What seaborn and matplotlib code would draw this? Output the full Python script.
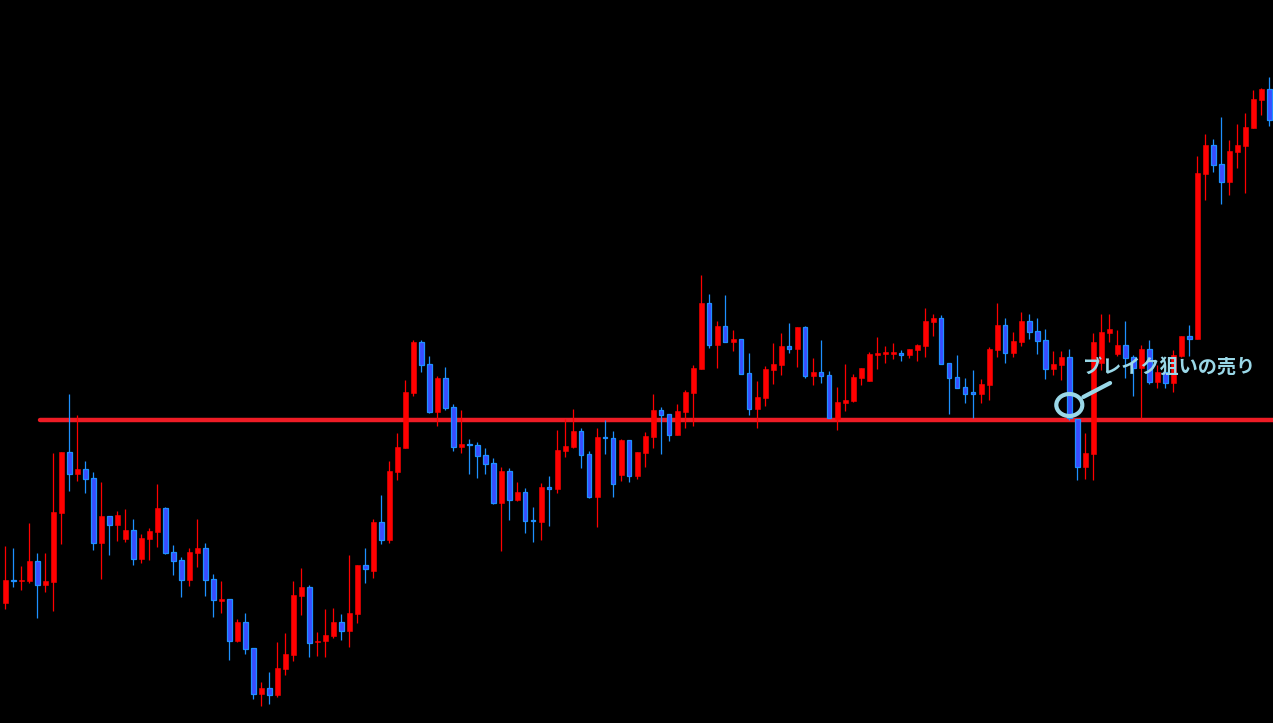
import numpy as np
import pandas as pd
import matplotlib
matplotlib.use("Agg")
import matplotlib.pyplot as plt
import seaborn as sns
from matplotlib.patches import Ellipse

# ---- data (chart levels, larger value = lower price) ----
open_lv = [603, 580, 581, 581, 561, 585, 582, 513, 452, 474, 469, 478, 543, 516, 525, 539, 530, 559, 539, 532,
           508, 552, 560, 580, 553, 548, 579, 600.5, 599, 641, 622, 648, 694, 688, 695, 669, 655, 596, 587, 642,
           641, 636, 622, 631, 614, 565, 571, 522, 540, 472, 448, 393, 342, 364, 412, 378, 407, 447, 444, 445,
           455, 463, 503, 471, 500, 492, 520, 522, 487.5, 489, 451, 447, 431, 454, 497, 437, 438, 475, 440, 476,
           453, 437, 410, 414, 435, 412, 393, 369, 303, 345, 326, 342, 339, 373, 409, 398, 370, 365, 346, 349,
           327, 376, 372, 375, 419, 403, 401, 378, 381, 355, 353.5, 353.5, 353, 355, 350, 346, 322, 318, 363, 377,
           387, 393, 394, 385, 350, 325, 353, 342, 321, 331, 340, 369, 365, 357, 419, 467, 454, 363, 333, 354,
           345, 357, 368, 349, 382, 372, 383, 356, 336, 339, 174, 145, 164, 182, 152, 146, 128, 100, 89]
high_lv = [546, 548, 566, 523, 553, 553, 453, 452, 394, 415, 461, 472, 482, 516, 511, 509, 519, 534, 528, 484,
           507, 545, 557, 548, 519, 543, 574, 581, 599, 619, 613, 648, 682, 672, 642, 633, 581, 568, 585, 632,
           609, 608, 614, 555, 565, 548, 519, 495, 461, 433, 380, 340, 340, 356, 376, 367, 404, 410, 439, 442,
           448, 458, 467, 468, 482, 488, 507, 483, 476, 430, 419, 409, 428, 451, 428, 420, 431, 439, 440, 452,
           432, 394, 407, 414, 404, 390, 365, 275, 294, 321, 295, 330, 339, 353, 381, 366, 343, 333, 323, 327,
           326, 358, 340, 371, 387, 364, 374, 368, 352, 337, 346, 343, 350, 349, 344, 308, 314, 315, 363, 355,
           378, 370, 379, 347, 303, 318, 332, 312, 314, 318, 329, 351, 351, 349, 420, 433, 333, 314, 314, 330,
           321, 355, 345, 340, 365, 368, 350, 336, 325, 156, 134, 139, 117, 140, 124, 113, 90, 88, 77]
low_lv = [609, 587, 590, 583, 618, 592, 611, 544, 491, 481, 493, 550, 579, 555, 541, 542, 565, 563, 560, 547,
          554, 575, 597, 586, 567, 596, 617, 613, 660, 642, 654, 699, 706, 704, 697, 675, 661, 615, 657, 656,
          657, 638, 640, 647, 623, 583, 578, 544, 543, 480, 448, 396, 372, 413, 426, 410, 451, 453, 474, 478,
          474, 504, 551, 520, 501, 533, 542, 540, 526, 493, 457, 448, 468, 498, 527, 454, 497, 481, 482, 479,
          467, 448, 454, 441, 435, 428, 426, 369, 348, 368, 342, 351, 374, 415, 428, 406, 384, 375, 353, 367,
          378, 385, 383, 418, 430, 411, 402, 385, 381, 369, 363, 359, 361, 358, 361, 357, 336, 364, 414, 388,
          403, 418, 403, 400, 357, 363, 357, 346, 339, 354, 379, 375, 380, 420, 480, 479, 480, 370, 342, 356,
          378, 396, 418, 384, 388, 388, 392, 357, 356, 339, 200, 172, 204, 195, 168, 193, 128, 115, 126]
close_lv = [580, 581, 580, 561, 585, 581, 512, 452, 474, 469, 479, 543, 516, 525, 515, 530, 559, 538, 531, 508,
            553, 561, 580, 552, 548, 580, 600, 599.5, 641, 622, 649, 694, 688, 695, 668, 654, 595, 587, 643, 641,
            635, 622, 631, 613, 565, 569, 522, 540, 471, 447, 392, 342, 365, 412, 378, 408, 447, 444, 445, 456,
            464, 503, 471, 500, 492, 521, 521, 487, 488.5, 450, 446, 431, 455, 497, 437, 438, 484, 440, 476, 452,
            436, 410, 415, 435, 411, 392, 368, 303, 345, 326, 342, 339, 374, 409, 397, 369, 364, 346, 349, 327,
            376, 372, 376, 418, 402, 400, 377, 368, 354, 353, 352.5, 352.5, 355, 349, 345, 321, 318, 364, 378, 388,
            394, 393.5, 384, 349, 325, 353, 341, 321, 332, 341, 369, 364, 357, 418, 467, 453, 342, 332, 329, 345,
            358, 368, 349, 382, 372, 383, 355, 336, 339, 173, 145, 165, 182, 151, 145, 127, 99, 89, 120]

support_lv = 420          # horizontal resistance/support line
line_start_index = 4.35
note_text = "ブレイク狙いの売り"
note_index = 133          # candle circled by the annotation

# convert chart levels to a price scale
def to_price(v):
    return 107.23 - np.asarray(v, dtype=float) / 100.0

df = pd.DataFrame({
    "open": to_price(open_lv), "high": to_price(high_lv),
    "low": to_price(low_lv), "close": to_price(close_lv),
})
df["idx"] = np.arange(len(df))
df["up"] = df["close"] >= df["open"]

# ---- style ----
sns.set_theme(style="dark", rc={"axes.facecolor": "black", "figure.facecolor": "black",
                                "axes.edgecolor": "black"})
plt.rcParams["font.family"] = ["Noto Sans CJK JP", "DejaVu Sans"]

RED = "#ff0000"
BLUE_FILL = "#3a4cff"
BLUE_EDGE = "#1e90ff"
LINE_RED = "#ee1c25"
NOTE = "#9ad8e8"

fig = plt.figure(figsize=(12.73, 7.23), dpi=100)
ax = fig.add_axes([0, 0, 1, 1])
ax.set_facecolor("black")

px = 0.01  # price per pixel
n = len(df)

# support line
sup = float(to_price(support_lv))
ax.plot([line_start_index, n + 5], [sup, sup], color=LINE_RED, lw=3.2,
        solid_capstyle="round", zorder=1)

# wicks
up = df[df["up"]]
dn = df[~df["up"]]
ax.vlines(up["idx"], up["low"], up["high"], color=RED, lw=0.9, zorder=2)
ax.vlines(dn["idx"], dn["low"], dn["high"], color=BLUE_EDGE, lw=0.9, zorder=2)

# bodies
def body(sub):
    bottom = np.minimum(sub["open"], sub["close"]).values
    h = np.abs(sub["close"] - sub["open"]).values
    h = np.maximum(h, 1.6 * px)
    mid = (sub["open"] + sub["close"]).values / 2
    bottom = np.where(h <= 1.6 * px, mid - 0.8 * px, bottom)
    return bottom, h

b, h = body(up)
ax.bar(up["idx"], h, bottom=b, width=0.6, color=RED, edgecolor=RED, linewidth=0.4, zorder=3)
b, h = body(dn)
ax.bar(dn["idx"], h, bottom=b, width=0.55, color=BLUE_FILL, edgecolor=BLUE_EDGE, linewidth=0.9, zorder=3)

# axes limits
x0 = -5.3 / 8
ax.set_xlim(x0, x0 + 1273 / 8)
ax.set_ylim(float(to_price(723)), float(to_price(0)))
ax.axis("off")

# annotation
circ_y = float(to_price(405))
ax.add_patch(Ellipse((note_index, circ_y), width=26 / 8, height=22 * px,
                     fill=False, edgecolor=NOTE, lw=3.0, zorder=6))
ax.plot([note_index + 1.75, note_index + 5.1],
        [float(to_price(397)), float(to_price(383))],
        color=NOTE, lw=3.0, solid_capstyle="round", zorder=6)
ax.text(note_index + 1.7, float(to_price(367)), note_text, color=NOTE,
        fontsize=13.8, fontweight="bold", ha="left", va="center", zorder=7)

fig.savefig("out.png", dpi=100, facecolor="black")
